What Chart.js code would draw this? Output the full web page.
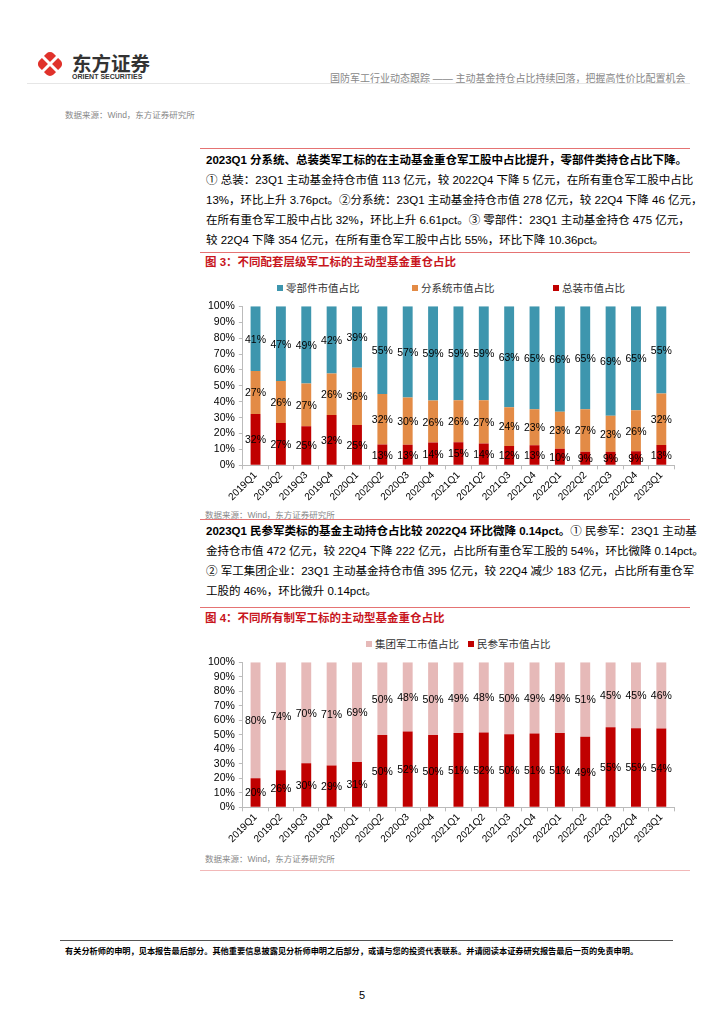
<!DOCTYPE html>
<html>
<head>
<meta charset="utf-8">
<script src="https://cdn.jsdelivr.net/npm/chart.js@4"></script>
<style>
  body { margin: 0; background: #fff; }
  #page { position: relative; width: 724px; height: 1024px; overflow: hidden;
    font-family: "Liberation Sans", Arial, "Noto Sans CJK SC", sans-serif; color: #000; }
  .abs { position: absolute; white-space: nowrap; }
  .rule { position: absolute; height: 1px; }
  .para { position: absolute; left: 206px; width: 478px; font-size: 11.5px; }
  .para div { height: 20px; line-height: 20px; text-align: justify; text-align-last: justify; white-space: nowrap; }
  .para div.last { text-align-last: left; }
  .src { position: absolute; font-size: 8.5px; color: #888; }
  .fig { position: absolute; left: 205px; font-size: 11.5px; font-weight: bold; color: #C8161D; }
  .lg { position: absolute; font-size: 10.5px; color: #333; white-space: nowrap; }
  .lg i { display: inline-block; width: 6px; height: 6px; margin-right: 3px; vertical-align: 1px; }
  canvas { position: absolute; }
</style>
</head>
<body>
<div id="page">
  <!-- header -->
  <svg class="abs" style="left:33px;top:47px" width="34" height="34" viewBox="0 0 34 34">
    <rect x="7" y="7" width="20" height="20" rx="5" fill="#E0322B" transform="rotate(45 17 17)"/>
    <line x1="9" y1="9" x2="25" y2="25" stroke="#fff" stroke-width="3"/>
    <line x1="25" y1="9" x2="9" y2="25" stroke="#fff" stroke-width="3"/>
  </svg>
  <div class="abs" style="left:72px;top:48px;font-size:19.5px;font-weight:bold;color:#333;font-family:'Noto Sans CJK SC'">东方证券</div>
  <div class="abs" style="left:72px;top:73px;font-size:7px;font-weight:bold;color:#333">ORIENT SECURITIES</div>
  <div class="abs" style="left:330px;top:70px;font-size:10px;color:#888">国防军工行业动态跟踪 —— 主动基金持仓占比持续回落，把握高性价比配置机会</div>
  <div class="rule" style="left:27px;top:83px;width:663px;background:#e6e6e6"></div>

  <div class="src" style="left:65px;top:108px">数据来源：Wind，东方证券研究所</div>
  <div class="rule" style="left:200px;top:148px;width:490px;background:#E57373"></div>

  <div class="para" style="top:150px">
    <div style="font-weight:bold">2023Q1 分系统、总装类军工标的在主动基金重仓军工股中占比提升，零部件类持仓占比下降。</div>
    <div>① 总装：23Q1 主动基金持仓市值 113 亿元，较 2022Q4 下降 5 亿元，在所有重仓军工股中占比</div>
    <div>13%，环比上升 3.76pct。②分系统：23Q1 主动基金持仓市值 278 亿元，较 22Q4 下降 46 亿元，</div>
    <div>在所有重仓军工股中占比 32%，环比上升 6.61pct。③ 零部件：23Q1 主动基金持仓 475 亿元，</div>
    <div class="last">较 22Q4 下降 354 亿元，在所有重仓军工股中占比 55%，环比下降 10.36pct。</div>
  </div>
  <div class="rule" style="left:200px;top:252px;width:490px;background:#E57373"></div>
  <div class="fig" style="top:253px">图 3：不同配套层级军工标的主动型基金重仓占比</div>

  <div class="lg" style="left:277px;top:280px"><i style="background:#3E96AE"></i>零部件市值占比</div>
  <div class="lg" style="left:412px;top:280px"><i style="background:#E38B46"></i>分系统市值占比</div>
  <div class="lg" style="left:553px;top:280px"><i style="background:#C00000"></i>总装市值占比</div>
  <canvas id="levelChart" style="left:200px;top:296px" width="476" height="207"></canvas>

  <div class="src" style="left:205px;top:508px">数据来源：Wind，东方证券研究所</div>
  <div class="rule" style="left:200px;top:519px;width:490px;background:#E57373"></div>

  <div class="para" style="top:521px">
    <div><b>2023Q1 民参军类标的基金主动持仓占比较 2022Q4 环比微降 0.14pct。</b>① 民参军：23Q1 主动基</div>
    <div>金持仓市值 472 亿元，较 22Q4 下降 222 亿元，占比所有重仓军工股的 54%，环比微降 0.14pct。</div>
    <div>② 军工集团企业：23Q1 主动基金持仓市值 395 亿元，较 22Q4 减少 183 亿元，占比所有重仓军</div>
    <div class="last">工股的 46%，环比微升 0.14pct。</div>
  </div>
  <div class="rule" style="left:200px;top:607px;width:490px;background:#E57373"></div>
  <div class="fig" style="top:609px">图 4：不同所有制军工标的主动型基金重仓占比</div>

  <div class="lg" style="left:366px;top:636px"><i style="background:#E6B9B8"></i>集团军工市值占比</div>
  <div class="lg" style="left:468px;top:636px"><i style="background:#C00000"></i>民参军市值占比</div>
  <canvas id="ownerChart" style="left:200px;top:652px" width="476" height="193"></canvas>

  <div class="src" style="left:205px;top:852px">数据来源：Wind，东方证券研究所</div>
  <div class="rule" style="left:200px;top:870px;width:490px;background:#F2B8B8"></div>

  <!-- footer -->
  <div class="rule" style="left:60px;top:940px;width:613px;background:#555"></div>
  <div class="abs" style="left:65px;top:944px;font-size:8.2px;font-weight:bold">有关分析师的申明，见本报告最后部分。其他重要信息披露见分析师申明之后部分，或请与您的投资代表联系。并请阅读本证券研究报告最后一页的免责申明。</div>
  <div class="abs" style="left:359px;top:989px;font-size:11px">5</div>
</div>

<script>
// Quarters shared by both charts
const quarters = ['2019Q1', '2019Q2', '2019Q3', '2019Q4', '2020Q1', '2020Q2', '2020Q3', '2020Q4',
  '2021Q1', '2021Q2', '2021Q3', '2021Q4', '2022Q1', '2022Q2', '2022Q3', '2022Q4', '2023Q1'];

// Figure 3: share by supply level (%)
const assemblyShare = [32.3, 26.6, 24.6, 31.6, 25.4, 13.1, 12.9, 14.3, 14.6, 13.7, 12.2, 12.6, 10.4, 8.6, 8.6, 8.8, 12.8];
const subsystemShare = [27.0, 26.4, 26.8, 26.2, 36.0, 31.8, 29.7, 26.4, 26.3, 27.3, 24.4, 22.7, 23.3, 26.6, 22.6, 25.9, 32.3];
const componentShare = [40.7, 47.0, 48.6, 42.2, 38.6, 55.1, 57.4, 59.3, 59.1, 59.0, 63.4, 64.7, 66.3, 64.8, 68.8, 65.3, 54.9];

// Figure 4: share by ownership (%)
const privateShare = [20.1, 25.6, 30.4, 28.8, 31.3, 49.9, 52.3, 49.8, 51.2, 51.6, 50.4, 51.0, 51.2, 48.6, 55.3, 54.6, 54.4];
const groupShare = [79.9, 74.4, 69.6, 71.2, 68.7, 50.1, 47.7, 50.2, 48.8, 48.4, 49.6, 49.0, 48.8, 51.4, 44.7, 45.4, 45.6];

const yTicks = [0, 10, 20, 30, 40, 50, 60, 70, 80, 90, 100];

// Percent labels in the middle of every bar segment
const barLabels = {
    id: 'barLabels',
    afterDatasetsDraw(chart) {
        const ctx = chart.ctx;
        ctx.save();
        ctx.font = '10.5px "Liberation Sans", Arial';
        ctx.fillStyle = '#000';
        ctx.textAlign = 'center';
        ctx.textBaseline = 'middle';
        chart.data.datasets.forEach((ds, i) => {
            chart.getDatasetMeta(i).data.forEach((bar, j) => {
                ctx.fillText(Math.round(ds.data[j]) + '%', bar.x, (bar.y + bar.base) / 2 + 1);
            });
        });
        ctx.restore();
    }
};

function stackedOptions() {
    return {
        responsive: false,
        animation: false,
        layout: { padding: { left: 4, right: 2, top: 6, bottom: 0 } },
        plugins: { legend: { display: false }, tooltip: { enabled: false } },
        scales: {
            x: {
                stacked: true,
                grid: { display: true, drawOnChartArea: false, drawTicks: true, tickLength: 4, color: '#bbb' },
                border: { display: true, color: '#bbb' },
                ticks: { color: '#000', font: { size: 10, family: '"Liberation Sans", Arial' },
                    maxRotation: 45, minRotation: 45, autoSkip: false, padding: 0 }
            },
            y: {
                stacked: true,
                min: 0, max: 100,
                afterBuildTicks: axis => { axis.ticks = yTicks.map(v => ({ value: v })); },
                grid: { display: true, drawOnChartArea: false, drawTicks: true, tickLength: 4, color: '#bbb' },
                border: { display: true, color: '#bbb' },
                ticks: { color: '#000', font: { size: 10.5, family: '"Liberation Sans", Arial' },
                    padding: 4, autoSkip: false, callback: v => v + '%' }
            }
        }
    };
}

new Chart(document.getElementById('levelChart'), {
    type: 'bar',
    data: {
        labels: quarters,
        datasets: [
            { label: '总装市值占比', data: assemblyShare, backgroundColor: '#C00000', barPercentage: 0.39, categoryPercentage: 1 },
            { label: '分系统市值占比', data: subsystemShare, backgroundColor: '#E38B46', barPercentage: 0.39, categoryPercentage: 1 },
            { label: '零部件市值占比', data: componentShare, backgroundColor: '#3E96AE', barPercentage: 0.39, categoryPercentage: 1 }
        ]
    },
    options: stackedOptions(),
    plugins: [barLabels]
});

new Chart(document.getElementById('ownerChart'), {
    type: 'bar',
    data: {
        labels: quarters,
        datasets: [
            { label: '民参军市值占比', data: privateShare, backgroundColor: '#C00000', barPercentage: 0.39, categoryPercentage: 1 },
            { label: '集团军工市值占比', data: groupShare, backgroundColor: '#E6B9B8', barPercentage: 0.39, categoryPercentage: 1 }
        ]
    },
    options: stackedOptions(),
    plugins: [barLabels]
});
</script>
</body>
</html>
